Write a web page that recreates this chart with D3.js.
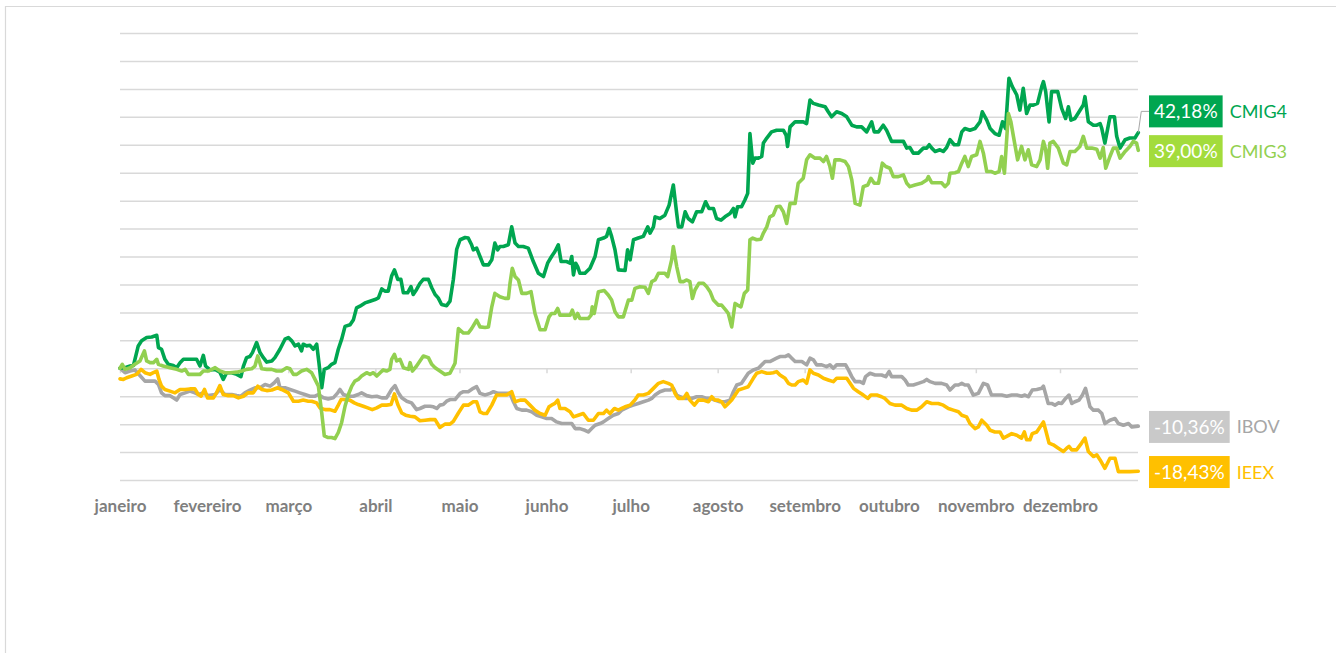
<!DOCTYPE html>
<html><head><meta charset="utf-8">
<script src="https://cdn.jsdelivr.net/npm/d3@7"></script>
<style>
html,body{margin:0;padding:0;background:#fff;}
svg{display:block;}
</style></head>
<body>
<svg id="chart" width="1341" height="653"></svg>
<script>
// ---------- DATA (day offset from 1 Jan 2024, % return) ----------
const months = ["janeiro","fevereiro","março","abril","maio","junho","julho","agosto","setembro","outubro","novembro","dezembro"];
const gridValues = [-20,-15,-10,-5,0,5,10,15,20,25,30,35,40,45,50,55,60];

const cmig4 = [[0,0],[1.8,0.1],[3.6,0.4],[4.8,0.5],[6.5,4.0],[7.7,4.9],[9.5,5.5],[11.3,5.6],[13.1,5.9],[13.7,3.7],[14.8,3.4],[16.0,1.6],[17.2,0.7],[19.0,0.5],[20.2,0.1],[21.4,1.0],[22.6,1.6],[24.9,1.6],[27.3,1.6],[28.5,0.4],[29.7,2.3],[30.5,0.4],[32.1,-0.3],[33.9,-0.2],[35.6,-0.7],[36.8,-2.0],[38.0,-0.8],[39.8,-0.8],[41.6,-1.1],[43.1,-1.5],[44.0,0.4],[45.1,1.9],[46.3,2.1],[47.2,2.8],[48.7,4.6],[49.9,2.8],[51.1,1.9],[52.3,1.1],[54.1,1.3],[55.2,1.9],[57.0,3.4],[58.8,5.2],[60.0,5.5],[61.2,4.9],[62.4,4.0],[63.6,4.3],[64.7,3.1],[65.3,4.3],[66.5,4.0],[67.7,4.1],[68.9,3.4],[70.1,4.3],[70.9,1.0],[71.9,-3.5],[72.8,-0.2],[74.2,0.1],[75.4,0.7],[76.6,1.0],[77.8,3.4],[79.0,5.2],[80.2,7.5],[82.0,7.8],[83.2,8.7],[84.3,10.8],[85.5,11.1],[87.3,11.7],[89.1,12.0],[90.9,12.3],[92.1,12.6],[93.3,14.2],[94.4,13.8],[95.6,13.8],[96.8,16.5],[97.8,17.6],[99.0,15.9],[100.1,15.9],[101.0,13.5],[102.5,13.5],[103.7,14.6],[104.5,13.2],[105.7,14.1],[106.9,15.2],[108.1,15.9],[109.9,15.9],[111.1,14.4],[112.3,13.2],[113.4,12.6],[114.6,11.4],[116.4,11.2],[117.6,12.0],[118.8,15.9],[120.0,21.3],[121.2,23.0],[123.0,23.4],[124.1,23.3],[125.3,22.1],[125.9,21.2],[127.1,21.5],[128.3,20.0],[129.5,18.5],[131.3,18.5],[132.5,19.4],[133.6,22.4],[134.6,21.2],[135.4,21.8],[136.6,21.8],[138.4,22.1],[139.6,25.3],[140.8,22.4],[142.0,21.8],[143.7,21.8],[145.5,21.5],[147.3,19.1],[149.1,17.0],[150.9,16.4],[152.4,18.8],[153.8,20.0],[155.0,20.9],[156.2,22.1],[157.2,19.1],[159.2,19.1],[160.4,18.8],[161.0,20.0],[161.6,16.7],[162.4,18.8],[163.1,18.2],[163.9,17.0],[165.7,17.0],[167.5,17.9],[169.3,20.0],[170.5,23.0],[172.3,23.3],[173.4,23.6],[174.3,25.0],[175.2,23.6],[176.4,21.2],[177.6,17.6],[180.0,17.5],[180.9,21.2],[181.8,19.4],[183.0,23.0],[184.7,23.3],[186.5,23.6],[188.1,25.3],[188.9,24.2],[190.1,25.3],[190.7,27.1],[192.4,26.8],[194.2,27.4],[195.7,29.2],[197.2,32.8],[198.4,27.7],[199.0,25.3],[200.2,25.3],[201.4,28.0],[202.5,26.8],[204.0,26.2],[205.5,28.0],[207.3,28.0],[208.7,29.8],[209.9,28.6],[211.5,28.6],[212.6,26.8],[214.2,26.5],[215.6,27.1],[217.4,27.7],[218.6,28.6],[219.2,27.1],[220.1,28.9],[221.5,28.9],[222.7,30.1],[223.7,31.3],[224.5,42.0],[225.5,36.7],[226.3,37.6],[227.5,37.6],[228.7,37.9],[229.3,40.3],[230.5,41.2],[232.2,42.3],[234.0,42.6],[236.4,42.6],[237.4,41.7],[237.9,39.7],[238.8,43.2],[240.6,44.1],[243.5,44.1],[244.7,43.8],[245.9,48.0],[247.1,47.4],[248.9,47.1],[251.3,46.8],[252.4,45.9],[253.6,45.0],[255.4,45.9],[257.2,45.6],[259.0,45.0],[260.8,43.5],[262.5,43.2],[264.3,43.2],[266.1,42.3],[267.9,44.1],[268.8,42.3],[270.3,42.3],[272.0,43.5],[273.2,42.6],[275.0,40.6],[277.4,40.6],[279.2,40.6],[280.4,39.4],[281.5,39.5],[282.7,38.5],[284.5,38.5],[286.3,39.4],[287.5,39.4],[288.4,40.0],[289.3,39.4],[290.5,38.8],[292.2,39.1],[293.4,38.8],[294.6,39.5],[295.8,40.9],[297.3,40.0],[298.8,40.0],[300.0,42.3],[301.1,42.9],[302.9,42.6],[304.7,42.9],[306.5,44.1],[307.3,45.9],[308.9,44.4],[310.1,42.9],[311.8,42.0],[313.3,41.7],[314.5,44.1],[315.6,42.9],[316.8,51.9],[318.0,50.4],[319.6,48.9],[320.7,46.2],[321.9,50.1],[323.1,45.6],[324.3,47.1],[325.5,47.1],[327.0,47.4],[328.5,50.4],[329.1,51.3],[329.9,49.5],[331.1,44.1],[332.0,49.5],[334.2,49.5],[335.6,46.5],[337.0,44.7],[338.0,46.8],[338.9,44.4],[340.3,44.7],[341.8,45.9],[343.3,47.1],[343.9,48.6],[345.1,44.1],[346.9,43.5],[348.1,43.5],[349.3,43.8],[349.9,42.9],[351.0,40.3],[352.8,45.0],[354.4,45.0],[355.2,41.5],[356.4,39.4],[358.2,40.9],[359.9,41.2],[361.7,41.2],[362.9,42.18]];

const cmig3 = [[0,0],[0.8,0.7],[1.8,-0.2],[3.6,0.1],[5.3,0.7],[7.1,1.3],[8.7,3.1],[9.5,1.3],[10.7,1.0],[11.9,1.0],[13.1,1.6],[13.7,0.7],[15.4,0.4],[17.8,0.1],[20.2,-0.2],[22.0,-0.5],[23.2,-0.2],[24.4,-1.1],[26.7,-1.1],[28.5,-1.1],[29.7,-0.5],[31.5,-0.5],[33.9,0.1],[35.6,-0.5],[37.4,-0.8],[39.2,-0.8],[41.6,-0.7],[43.4,-0.5],[45.1,-0.2],[46.9,-0.1],[48.1,0.4],[49.1,2.2],[50.5,-0.1],[52.3,-0.2],[54.1,-0.2],[55.8,-0.5],[57.6,-0.5],[59.4,0.1],[60.6,-0.1],[61.8,-1.1],[63.0,-1.1],[64.7,-0.5],[66.5,-0.2],[68.3,-0.8],[69.5,-2.0],[70.7,-3.2],[71.9,-8.0],[72.8,-12.1],[74.2,-12.4],[75.4,-12.4],[76.6,-12.6],[77.8,-11.5],[79.0,-9.7],[80.2,-6.8],[81.4,-4.7],[82.6,-3.2],[83.7,-2.3],[84.9,-2.0],[86.1,-1.4],[87.9,-0.8],[89.1,-1.1],[90.3,-0.8],[91.5,-1.4],[92.7,-0.8],[93.8,-0.3],[95.0,-0.5],[96.2,-0.2],[96.8,1.6],[97.8,2.5],[98.6,1.3],[99.8,1.6],[101.0,0.1],[102.8,-0.2],[103.4,1.0],[104.2,-0.5],[105.7,0.4],[106.9,1.3],[108.1,2.2],[109.9,1.9],[111.1,0.7],[112.3,0.1],[114.0,-0.5],[115.8,-1.1],[117.6,-0.9],[119.4,0.9],[120.6,7.1],[122.4,6.3],[124.1,6.3],[125.3,7.1],[127.1,8.6],[128.3,7.4],[130.1,7.3],[131.3,7.4],[132.5,11.0],[133.6,13.4],[135.4,12.8],[137.2,12.5],[138.4,12.5],[139.0,15.2],[139.8,17.9],[140.8,16.4],[142.0,15.8],[143.2,13.4],[144.9,13.4],[146.5,13.7],[147.9,9.8],[149.7,6.9],[151.5,6.9],[152.9,9.2],[153.8,9.8],[155.0,9.8],[156.0,10.7],[156.8,9.5],[158.6,9.5],[160.4,9.5],[161.2,10.4],[162.2,8.9],[163.1,9.8],[163.9,8.9],[165.7,8.9],[166.9,8.9],[167.9,9.5],[168.3,11.0],[169.0,9.8],[170.5,13.7],[172.6,13.9],[174.0,13.1],[175.2,12.2],[176.4,10.1],[177.6,9.2],[179.4,9.2],[181.2,12.2],[182.4,12.2],[183.5,14.3],[185.3,14.6],[187.1,14.5],[188.3,13.4],[189.5,15.5],[190.7,15.8],[191.9,17.0],[193.0,17.0],[194.2,17.0],[195.2,16.4],[196.6,19.4],[197.2,21.8],[198.4,18.2],[199.6,15.5],[200.8,15.5],[202.0,15.8],[203.1,15.5],[204.0,12.5],[204.9,14.0],[206.3,15.2],[207.9,15.2],[209.1,14.6],[210.3,13.7],[211.5,12.2],[213.2,11.3],[214.4,11.3],[215.9,10.4],[216.8,9.8],[218.0,7.4],[219.2,11.6],[220.1,11.3],[221.3,11.0],[222.5,13.4],[223.7,14.0],[224.5,23.0],[225.5,23.3],[226.9,23.0],[228.4,23.1],[229.3,24.2],[230.5,25.3],[231.6,27.1],[232.8,27.4],[234.0,28.9],[235.2,29.0],[236.4,28.0],[237.6,25.9],[238.8,29.5],[240.6,29.5],[241.7,33.1],[243.5,34.0],[244.7,37.3],[245.9,38.2],[247.7,37.6],[249.5,37.6],[250.7,37.0],[251.8,37.9],[253.0,36.1],[253.9,34.0],[254.8,37.3],[256.6,37.3],[258.4,37.0],[259.6,36.1],[260.8,33.7],[262.0,29.5],[263.7,29.2],[264.9,32.5],[266.5,32.8],[267.6,34.0],[268.8,33.1],[270.3,33.1],[271.7,36.7],[272.9,36.1],[274.4,35.8],[275.6,34.3],[277.4,34.3],[279.2,34.6],[280.4,33.1],[281.5,32.5],[283.3,32.8],[285.7,33.1],[287.5,33.7],[288.1,34.3],[289.3,33.2],[291.0,33.2],[292.8,33.2],[294.0,32.5],[295.2,33.1],[295.8,34.9],[297.6,35.0],[298.8,35.2],[300.0,36.7],[301.1,37.9],[302.3,36.1],[303.5,37.9],[305.3,38.2],[306.5,40.6],[307.7,38.5],[308.9,35.2],[310.6,35.2],[311.8,34.9],[313.3,35.2],[314.2,37.9],[315.2,34.9],[316.6,45.6],[317.5,44.1],[318.4,41.5],[319.9,37.3],[321.3,39.7],[322.5,37.3],[323.7,39.1],[324.9,36.4],[326.7,36.1],[327.9,37.3],[329.1,40.6],[329.9,39.1],[330.6,35.8],[331.4,40.3],[332.6,40.6],[334.4,39.4],[336.2,36.7],[337.4,36.4],[338.6,38.8],[340.3,38.8],[342.1,39.7],[343.3,41.5],[344.5,39.4],[346.3,39.4],[348.1,39.2],[349.3,37.6],[350.4,39.5],[351.3,35.8],[352.8,37.9],[354.0,39.4],[355.2,39.4],[356.4,37.6],[358.2,38.8],[359.9,39.7],[361.1,40.6],[362.3,40.3],[362.9,39.0]];

const ibov = [[0,0],[1.8,-0.8],[3.6,-0.5],[5.3,-0.3],[7.1,-1.3],[8.9,-2.3],[10.7,-2.3],[12.5,-2.3],[13.7,-2.9],[14.8,-4.4],[16.0,-4.9],[17.8,-4.9],[19.0,-5.3],[20.2,-5.7],[21.4,-4.7],[23.2,-4.4],[24.9,-4.1],[26.7,-4.4],[27.9,-4.7],[29.7,-4.4],[31.5,-4.9],[33.9,-4.7],[35.6,-3.8],[37.4,-4.7],[39.8,-4.7],[41.6,-4.9],[43.1,-5.0],[44.5,-4.4],[46.3,-3.9],[48.1,-3.5],[49.9,-3.5],[51.7,-2.9],[53.5,-3.2],[55.0,-2.6],[56.2,-1.9],[57.0,-3.5],[58.8,-3.5],[60.6,-3.8],[62.4,-4.1],[64.1,-4.4],[65.9,-4.7],[67.7,-5.0],[69.5,-5.0],[70.7,-4.7],[72.5,-5.3],[74.2,-5.5],[76.0,-5.3],[77.6,-4.4],[78.4,-3.8],[79.6,-4.7],[81.4,-5.0],[83.2,-5.0],[84.9,-4.7],[86.1,-4.4],[87.9,-4.9],[89.7,-5.1],[91.5,-5.0],[93.3,-5.3],[95.0,-5.3],[96.8,-3.8],[98.0,-3.1],[99.2,-4.4],[100.4,-5.3],[102.2,-5.9],[103.9,-6.2],[105.7,-7.4],[106.9,-7.2],[108.7,-6.8],[110.5,-6.8],[111.7,-6.9],[112.9,-7.2],[114.0,-6.6],[115.2,-6.5],[116.4,-5.9],[117.6,-5.6],[119.4,-5.6],[121.2,-4.5],[122.4,-4.2],[124.1,-4.2],[125.9,-3.6],[127.1,-3.3],[128.3,-4.5],[130.1,-4.8],[131.9,-4.5],[133.1,-4.2],[134.8,-4.5],[137.2,-4.5],[139.0,-4.5],[140.2,-6.0],[141.4,-7.2],[143.2,-7.5],[144.9,-7.5],[146.7,-7.8],[148.5,-8.4],[150.3,-8.7],[152.1,-9.0],[153.8,-9.0],[155.6,-9.6],[157.4,-9.9],[159.2,-9.9],[161.0,-9.9],[162.2,-10.8],[163.9,-10.8],[165.7,-11.1],[166.9,-11.4],[168.1,-10.8],[169.3,-10.2],[171.1,-9.9],[172.3,-9.6],[174.0,-9.0],[175.8,-8.4],[177.6,-8.1],[178.8,-7.5],[181.2,-6.9],[182.9,-6.6],[184.7,-6.3],[186.5,-6.0],[188.3,-5.7],[189.5,-5.4],[190.7,-4.8],[192.4,-4.2],[194.2,-3.9],[196.0,-3.9],[197.2,-3.6],[198.4,-4.8],[199.6,-5.1],[201.4,-5.4],[203.7,-5.4],[205.5,-5.1],[207.3,-5.1],[209.1,-5.4],[210.3,-5.4],[212.0,-5.7],[213.8,-6.0],[215.6,-6.0],[217.4,-5.7],[218.6,-4.2],[219.8,-3.0],[221.5,-2.7],[222.7,-1.8],[223.9,-0.9],[225.7,-0.3],[227.5,0.0],[228.7,0.6],[229.9,1.2],[231.6,1.2],[232.8,1.5],[234.0,1.8],[235.2,2.1],[237.0,2.1],[238.2,2.4],[239.4,1.8],[240.6,1.2],[243.0,1.2],[244.7,0.6],[245.9,1.8],[247.1,1.5],[248.3,0.6],[250.1,0.6],[251.8,0.3],[253.0,0.6],[254.2,0.0],[255.4,0.6],[257.2,0.6],[258.6,0.6],[259.6,-0.3],[260.8,-1.5],[262.0,-2.4],[263.7,-2.4],[264.9,-2.7],[265.7,-1.5],[267.3,-0.9],[269.1,-1.2],[271.4,-1.2],[272.9,-1.5],[274.1,-0.6],[275.0,-1.5],[276.8,-1.5],[278.6,-1.5],[279.8,-2.1],[280.9,-3.0],[282.7,-3.0],[284.5,-2.7],[286.3,-2.4],[287.5,-2.0],[288.7,-2.4],[290.5,-2.7],[292.8,-2.7],[294.6,-3.0],[295.8,-3.9],[297.6,-3.0],[298.8,-3.0],[300.0,-2.7],[301.1,-3.0],[302.3,-3.0],[304.1,-4.8],[305.9,-4.5],[307.7,-2.7],[309.2,-3.0],[310.6,-4.8],[312.4,-4.8],[314.2,-4.8],[316.0,-5.0],[317.8,-4.8],[319.6,-4.8],[321.3,-5.0],[322.5,-4.8],[323.7,-5.1],[325.1,-3.9],[326.7,-3.8],[328.5,-3.6],[329.1,-3.2],[330.8,-6.3],[332.0,-6.3],[333.2,-6.6],[334.4,-6.2],[335.6,-6.3],[337.0,-5.4],[338.2,-4.8],[339.2,-6.3],[340.3,-6.0],[341.8,-5.7],[343.0,-4.8],[344.1,-3.6],[345.7,-6.9],[346.9,-7.5],[348.7,-7.5],[349.9,-8.1],[351.0,-9.9],[352.8,-9.3],[354.6,-9.0],[355.8,-9.9],[357.6,-10.2],[359.4,-9.9],[360.6,-10.5],[362.9,-10.36]];

const ieex = [[0,-1.9],[1.2,-2.0],[2.4,-1.7],[4.2,-1.4],[5.9,-1.1],[7.5,-0.2],[8.9,-0.8],[10.7,-1.1],[11.9,-0.8],[13.1,-0.5],[13.9,-2.0],[14.8,-3.2],[16.0,-3.8],[17.8,-4.1],[19.6,-4.4],[21.4,-3.8],[23.2,-3.8],[24.9,-3.7],[26.7,-3.7],[27.9,-4.7],[28.9,-5.0],[30.1,-3.8],[31.2,-5.3],[33.3,-5.3],[34.4,-4.4],[35.6,-3.1],[36.8,-4.7],[38.6,-4.9],[40.4,-4.9],[42.2,-5.3],[44.0,-5.0],[45.7,-4.4],[47.5,-4.4],[49.1,-3.2],[50.5,-3.8],[52.3,-4.0],[54.1,-3.9],[56.2,-3.5],[57.6,-3.8],[58.8,-4.1],[60.0,-4.4],[61.8,-5.9],[63.6,-5.9],[65.3,-5.7],[67.1,-5.9],[68.3,-5.9],[70.1,-6.2],[71.3,-7.1],[73.1,-7.4],[74.8,-7.4],[76.6,-7.7],[77.6,-6.8],[78.8,-5.6],[80.2,-5.6],[81.9,-5.7],[83.5,-6.2],[84.9,-6.5],[86.7,-6.8],[88.3,-7.1],[89.9,-7.4],[91.5,-7.1],[93.3,-6.6],[95.0,-6.6],[96.6,-6.5],[97.8,-4.6],[99.0,-6.5],[100.4,-8.0],[101.8,-8.4],[103.4,-8.6],[105.1,-8.7],[106.9,-9.4],[108.7,-9.3],[110.5,-9.2],[112.3,-9.2],[114.0,-10.6],[115.8,-10.0],[117.6,-10.0],[118.8,-9.5],[120.6,-8.0],[122.4,-6.6],[124.1,-6.6],[125.9,-6.0],[127.1,-6.0],[128.3,-7.8],[129.5,-8.1],[130.7,-8.1],[132.5,-6.6],[134.2,-4.8],[136.0,-4.8],[137.8,-4.8],[139.6,-4.2],[140.8,-6.0],[142.6,-5.7],[144.3,-5.7],[146.1,-6.6],[147.9,-7.5],[149.7,-8.1],[151.5,-8.4],[152.9,-6.9],[153.8,-6.6],[155.0,-6.3],[156.0,-5.7],[156.8,-7.2],[158.6,-7.2],[160.4,-7.8],[161.6,-8.7],[163.3,-8.4],[165.1,-8.1],[166.9,-9.3],[168.7,-9.3],[170.5,-8.1],[172.3,-8.1],[173.4,-7.5],[174.6,-8.1],[176.2,-7.2],[177.6,-7.5],[178.8,-7.2],[180.0,-6.9],[181.8,-6.6],[183.5,-5.7],[184.7,-4.8],[186.5,-4.8],[188.3,-4.5],[190.1,-3.6],[191.9,-2.7],[193.6,-2.4],[195.4,-2.7],[196.6,-3.0],[197.8,-4.5],[199.0,-5.4],[200.8,-5.4],[202.0,-4.5],[203.1,-5.7],[204.7,-6.6],[206.1,-5.7],[207.9,-5.7],[209.7,-6.0],[210.9,-5.1],[212.0,-5.7],[213.2,-5.7],[214.4,-6.0],[215.6,-6.9],[216.8,-6.3],[218.0,-5.7],[219.2,-4.8],[220.4,-3.9],[222.2,-3.6],[223.9,-3.3],[225.7,-1.8],[226.9,-0.9],[228.7,-0.6],[230.5,-0.9],[231.6,-0.9],[232.8,-0.8],[234.0,-0.6],[235.2,-1.2],[237.0,-1.8],[238.2,-2.7],[239.4,-3.0],[240.6,-3.0],[241.7,-2.4],[243.5,-2.1],[244.7,-2.7],[245.9,-0.3],[247.1,-0.9],[248.9,-1.2],[250.7,-1.8],[252.4,-2.1],[254.2,-2.4],[255.4,-1.8],[257.2,-1.8],[259.0,-1.8],[260.2,-2.7],[261.4,-3.6],[263.1,-4.2],[264.9,-4.8],[266.5,-5.4],[267.6,-4.8],[269.7,-4.8],[271.4,-5.1],[272.6,-5.4],[274.4,-6.3],[276.2,-6.6],[278.6,-6.6],[280.4,-7.2],[282.1,-7.5],[283.9,-7.5],[285.7,-6.9],[287.5,-6.0],[289.3,-6.3],[291.6,-6.3],[293.4,-6.6],[295.2,-7.2],[297.0,-7.5],[298.8,-7.8],[300.0,-8.4],[301.7,-8.7],[302.9,-9.9],[304.7,-10.8],[305.9,-10.5],[307.1,-9.3],[308.9,-10.2],[310.1,-11.1],[311.8,-11.4],[313.6,-11.4],[314.8,-12.5],[316.0,-12.2],[317.8,-11.7],[319.6,-12.0],[321.3,-12.5],[322.3,-11.4],[323.1,-12.8],[324.3,-12.8],[325.1,-11.7],[326.7,-11.4],[327.9,-10.5],[329.1,-9.6],[329.9,-11.1],[331.1,-13.4],[332.6,-13.7],[334.4,-14.3],[336.2,-14.9],[337.4,-14.3],[338.2,-14.0],[339.2,-14.6],[340.9,-14.6],[342.7,-13.4],[343.9,-12.5],[345.1,-14.9],[346.9,-15.8],[348.1,-15.5],[349.3,-16.4],[351.0,-17.9],[352.8,-16.1],[354.6,-16.1],[355.8,-18.5],[357.6,-18.5],[359.9,-18.5],[362.9,-18.43]];

const seriesNames = ["IBOV","IEEX","CMIG4","CMIG3"];
const seriesData = [ibov, ieex, cmig4, cmig3];
const lineColors = ["#A6A6A6","#FFC000","#00A650","#92D050"];
const boxColors  = ["#C9C9C9","#FFC000","#00A650","#A3DC3C"];
const labelShift = [0, 0, -22, 0]; // CMIG4 label lifted to avoid overlap

// ---------- LAYOUT ----------
const svg = d3.select("#chart");
const W = 1341, H = 653;
const pLeft = 120, pRight = 1138, pTop = 33, pBottom = 480;
const day0 = Date.UTC(2024,0,1);
const toDate = d => new Date(day0 + d*864e5);

const x = d3.scaleUtc().domain([new Date(Date.UTC(2024,0,1)), new Date(Date.UTC(2024,11,1))]).range([120,1060]);
const y = d3.scaleLinear().domain([-20,60]).range([pBottom, pTop]);
const monthDates = months.map((m,i)=> new Date(Date.UTC(2024,i,1)));

// frame
svg.append("line").attr("x1",5).attr("x2",1336).attr("y1",6.5).attr("y2",6.5).attr("stroke","#D9D9D9").attr("stroke-width",1.2);
svg.append("line").attr("x1",5.5).attr("x2",5.5).attr("y1",6).attr("y2",H).attr("stroke","#D9D9D9").attr("stroke-width",1.2);

// gridlines
const grid = svg.append("g").attr("transform",`translate(${pLeft},0)`)
  .call(d3.axisLeft(y).tickValues(gridValues).tickSize(-(pRight-pLeft)).tickFormat(""));
grid.select(".domain").remove();
grid.selectAll(".tick line").attr("stroke","#D9D9D9").attr("stroke-width",1.5);

// tick marks on zero line
const ticks = svg.append("g").attr("transform",`translate(0,${y(0)})`)
  .call(d3.axisBottom(x).tickValues(monthDates).tickSize(5).tickFormat(""));
ticks.select(".domain").remove();
ticks.selectAll(".tick line").attr("stroke","#D9D9D9").attr("stroke-width",1.5);

// month labels (low position)
const xl = svg.append("g").attr("transform",`translate(0,${pBottom})`)
  .call(d3.axisBottom(x).tickValues(monthDates).tickSize(0).tickPadding(20).tickFormat((d,i)=>months[i]));
xl.select(".domain").remove();
xl.selectAll("text").attr("font-family","Lato, 'Open Sans', sans-serif").attr("font-weight","bold")
  .attr("font-size","17px").attr("fill","#7F7F7F");

// lines
const line = d3.line().x(d=>x(toDate(d[0]))).y(d=>y(d[1])).curve(d3.curveLinear);
seriesData.forEach((s,i)=>{
  svg.append("path").datum(s).attr("d",line).attr("fill","none")
    .attr("stroke",lineColors[i]).attr("stroke-width",3.6)
    .attr("stroke-linejoin","round").attr("stroke-linecap","round");
});

// end labels
const fmt = v => d3.format(".2f")(v).replace("\u2212","-").replace(".",",") + "%";
const boxX = 1149, boxH = 32, padX = 5;
seriesData.forEach((s,i)=>{
  const last = s[s.length-1];
  const ex = x(toDate(last[0])), ey = y(last[1]);
  const cy = ey + 0.8 + labelShift[i];
  if (labelShift[i] !== 0) {
    svg.append("path").attr("d",`M${ex},${ey} L${ex+3},${cy} L${boxX},${cy}`)
      .attr("fill","none").attr("stroke","#A6A6A6").attr("stroke-width",1);
  }
  const g = svg.append("g");
  const rect = g.append("rect").attr("x",boxX).attr("y",cy-boxH/2).attr("height",boxH).attr("fill",boxColors[i]);
  const t = g.append("text").attr("x",boxX+padX).attr("y",cy).attr("dy","0.36em")
    .attr("font-family","Lato, 'Open Sans', sans-serif").attr("font-size","19px").attr("fill","#fff")
    .text(fmt(last[1]));
  const tw = t.node().getComputedTextLength();
  rect.attr("width", tw + 2*padX);
  g.append("text").attr("x",boxX + tw + 2*padX + 7).attr("y",cy).attr("dy","0.36em")
    .attr("font-family","Lato, 'Open Sans', sans-serif").attr("font-size","18px").attr("fill",lineColors[i])
    .text(seriesNames[i]);
});
</script>
</body></html>
